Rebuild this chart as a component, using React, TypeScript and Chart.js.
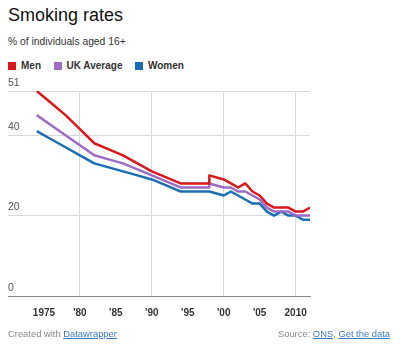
import React, { useEffect, useRef } from "react";
import { Chart, registerables } from "chart.js";

Chart.register(...registerables);

const YEARS = [1974, 1976, 1978, 1980, 1982, 1984, 1986, 1988, 1990, 1992, 1994, 1996, 1998, 1998, 2000, 2001, 2002, 2003, 2004, 2005, 2006, 2007, 2008, 2009, 2010, 2011, 2012];
const MEN = [51, 48, 45, 41.5, 38, 36.5, 35, 33, 31, 29.5, 28, 28, 28, 30, 29, 28, 27, 28, 26, 25, 23, 22, 22, 22, 21, 21, 22];
const UK_AVERAGE = [45, 42.5, 40, 37.5, 35, 34, 33, 31.5, 30, 28.5, 27, 27, 27, 28, 27, 27, 26, 26, 25, 24, 22, 21, 21, 21, 20, 20, 20];
const WOMEN = [41, 39, 37, 35, 33, 32, 31, 30, 29, 27.5, 26, 26, 26, 26, 25, 26, 25, 24, 23, 23, 21, 20, 21, 20, 20, 19, 19];

const X_TICKS = [1975, 1980, 1985, 1990, 1995, 2000, 2005, 2010];
const X_LABELS = ["1975", "'80", "'85", "'90", "'95", "'00", "'05", "2010"];
const Y_TICKS = [0, 20, 40, 51];

const SERIES_NAMES = ["Men", "UK Average", "Women"];
const COLORS = ["#d7191c", "#9b6bc6", "#1a6eb3"];

const FONT = "'Liberation Sans', Arial, sans-serif";

export default function App() {
  const ref = useRef<HTMLCanvasElement>(null);

  useEffect(() => {
    const values = [MEN, UK_AVERAGE, WOMEN];
    const chart = new Chart(ref.current!, {
      type: "line",
      data: {
        datasets: values.map((vals, i) => ({
          label: SERIES_NAMES[i],
          data: YEARS.map((x, j) => ({ x, y: vals[j] })),
          borderColor: COLORS[i],
          backgroundColor: COLORS[i],
          borderWidth: 2.5,
          pointRadius: 0,
          tension: 0,
          fill: false,
          borderJoinStyle: "round" as const,
        })),
      },
      options: {
        responsive: false,
        animation: false,
        layout: { padding: { top: 13, bottom: 4, left: 0, right: 5 } },
        plugins: { legend: { display: false }, tooltip: { enabled: false } },
        scales: {
          x: {
            type: "linear",
            min: 1970,
            max: 2012,
            afterBuildTicks: (s: any) => {
              s.ticks = X_TICKS.map((v) => ({ value: v }));
            },
            ticks: {
              autoSkip: false,
              maxRotation: 0,
              padding: 11,
              color: "#333",
              font: { family: FONT, size: 10, weight: "bold" },
              callback: (v: any) => {
                const i = X_TICKS.indexOf(Number(v));
                return i >= 0 ? X_LABELS[i] : "";
              },
            },
            grid: {
              drawTicks: false,
              color: (c: any) => (c.tick && c.tick.value % 10 === 0 ? "#d9d9d9" : "rgba(0,0,0,0)"),
              lineWidth: 1,
            },
            border: { display: true, color: "#888", width: 1 },
          },
          y: {
            min: 0,
            max: 51,
            afterBuildTicks: (s: any) => {
              s.ticks = Y_TICKS.map((v) => ({ value: v }));
            },
            ticks: {
              mirror: true,
              padding: 0,
              labelOffset: -8,
              color: "#555",
              font: { family: FONT, size: 10.5 },
            },
            grid: {
              drawTicks: false,
              color: (c: any) => (c.tick && c.tick.value === 0 ? "rgba(0,0,0,0)" : "#d9d9d9"),
              lineWidth: 1,
            },
            border: { display: false },
          },
        },
      },
    } as any);
    return () => chart.destroy();
  }, []);

  return (
    <div style={{ position: "relative", width: 384, height: 336, fontFamily: FONT }}>
      <div style={{ position: "absolute", left: 0, top: -2.5, fontSize: 18, lineHeight: "18px", color: "#111", whiteSpace: "nowrap" }}>
        Smoking rates
      </div>
      <div style={{ position: "absolute", left: 0, top: 29.3, fontSize: 10.3, lineHeight: "10.3px", color: "#333", whiteSpace: "nowrap" }}>
        % of individuals aged 16+
      </div>
      <div style={{ position: "absolute", left: 0, top: 52.5, display: "flex", alignItems: "center", fontSize: 10, lineHeight: "10px", fontWeight: "bold", color: "#333", whiteSpace: "nowrap" }}>
        {SERIES_NAMES.map((name, i) => (
          <div key={name} style={{ display: "flex", alignItems: "center", marginRight: 12.5 }}>
            <span style={{ display: "inline-block", width: 8, height: 8, background: COLORS[i], marginRight: 5 }} />
            <span>{name}</span>
          </div>
        ))}
      </div>
      <canvas ref={ref} width={310} height={256} style={{ position: "absolute", left: 0, top: 70, display: "block" }} />
      <div style={{ position: "absolute", left: 0, top: 321, fontSize: 9.4, lineHeight: "9.4px", color: "#888", whiteSpace: "nowrap" }}>
        Created with <span style={{ color: "#3a7cc4", textDecoration: "underline" }}>Datawrapper</span>
      </div>
      <div style={{ position: "absolute", right: 2, top: 321, fontSize: 9.4, lineHeight: "9.4px", color: "#888", whiteSpace: "nowrap" }}>
        Source: <span style={{ color: "#3a7cc4", textDecoration: "underline" }}>ONS</span>,{" "}
        <span style={{ color: "#3a7cc4", textDecoration: "underline" }}>Get the data</span>
      </div>
    </div>
  );
}
